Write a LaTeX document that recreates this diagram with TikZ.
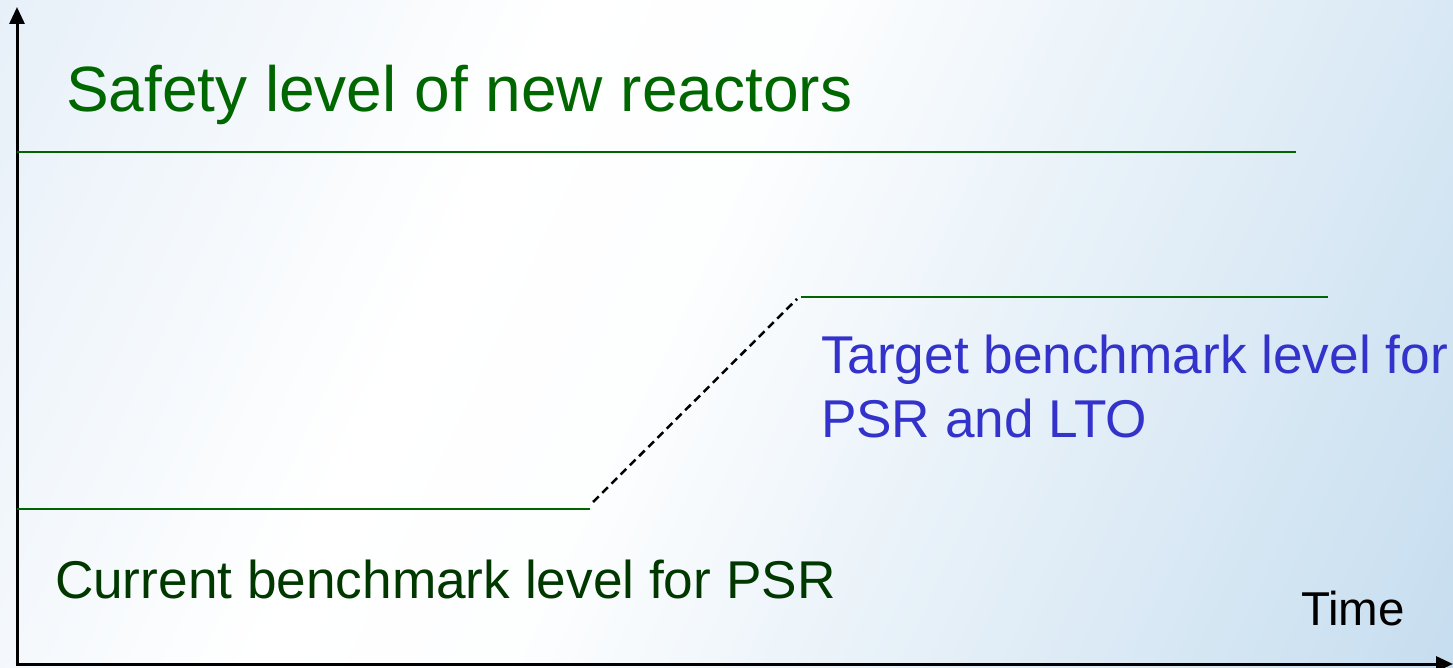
\documentclass[tikz,border=0pt]{standalone}
\usepackage{fontspec}
\setmainfont{Liberation Sans}
\usetikzlibrary{arrows.meta}
\definecolor{safegreen}{RGB}{0,102,0}
\definecolor{curgreen}{RGB}{0,56,0}
\definecolor{tgtblue}{RGB}{51,51,204}
\definecolor{bgA}{RGB}{212,228,243}
\definecolor{bgB}{RGB}{172,206,232}
\definecolor{linegreen}{RGB}{0,100,0}
\pgfdeclarehorizontalshading{bgdiag}{100bp}{color(0bp)=(bgA); color(38bp)=(white); color(48bp)=(white!97!bgB); color(100bp)=(bgB)}
\begin{document}
\begin{tikzpicture}[x=1bp,y=-1bp,
  lbl/.style={anchor=base west,inner sep=0pt,outer sep=0pt},
  axis/.style={line width=3bp,-{Triangle[length=17bp,width=15bp]}},
  level/.style={draw=linegreen,line width=2bp},
  ramp/.style={line width=2.5bp,dash pattern=on 8bp off 5bp}]
\useasboundingbox (0,0) rectangle (1453,668);
\shade[shading=bgdiag,shading angle=-25] (0,0) rectangle (1453,668);
% axes
\coordinate (origin) at (17,664);
\coordinate (ytop) at (17,7);
\coordinate (xend) at (1453,664);
\draw[axis] ([yshift=1.5bp]origin) -- (ytop);
\draw[axis] ([xshift=-1.5bp]origin) -- (xend);
% levels
\coordinate (s1) at (17,152);
\coordinate (s2) at (1296,152);
\coordinate (c1) at (17,509);
\coordinate (c2) at (590,509);
\coordinate (t1) at (801,297);
\coordinate (t2) at (1328,297);
\draw[level] (s1) -- (s2);
\draw[level] (c1) -- (c2);
\draw[level] (t1) -- (t2);
\draw[ramp] ([shift={(3,-7)}]c2) -- ([shift={(-4,2)}]t1);
% labels
\node[lbl,text=safegreen,font=\fontsize{64bp}{72bp}\selectfont] (safety) at (66,112) {Safety level of new reactors};
\node[lbl,text=curgreen,font=\fontsize{53.2bp}{62bp}\selectfont] (current) at (55,598) {Current benchmark level for PSR};
\node[lbl,text=tgtblue,font=\fontsize{53.2bp}{64bp}\selectfont] (target1) at (821,373) {Target benchmark level for};
\node[lbl,text=tgtblue,font=\fontsize{53.2bp}{64bp}\selectfont] (target2) at (821,437) {PSR and LTO};
\node[lbl,text=black,font=\fontsize{47.5bp}{56bp}\selectfont] (time) at (1301,625) {Time};
\end{tikzpicture}
\end{document}
